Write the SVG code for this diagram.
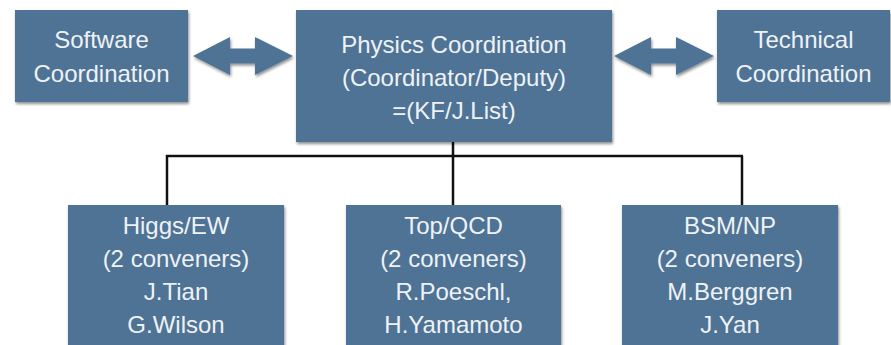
<svg xmlns="http://www.w3.org/2000/svg" width="891" height="345" viewBox="0 0 891 345">
  <defs>
    <filter id="shadow" x="-10%" y="-10%" width="125%" height="130%">
      <feGaussianBlur in="SourceAlpha" stdDeviation="1.5"/>
      <feOffset dx="1" dy="2" result="b"/>
      <feComponentTransfer><feFuncA type="linear" slope="0.45"/></feComponentTransfer>
      <feMerge><feMergeNode/><feMergeNode in="SourceGraphic"/></feMerge>
    </filter>
    <path id="dblArrow" d="M0,0 L37,-19 L37,-7.5 L62,-7.5 L62,-19 L100,0 L62,19 L62,7.5 L37,7.5 L37,19 Z"/>
  </defs>
  <style>
    .box { fill: #4f7395; filter: url(#shadow); }
    .arrow { fill: #4f7395; filter: url(#shadow); }
    .lbl { font-family: "Liberation Sans", Arial, sans-serif; font-size: 24px; fill: #eef2f5; text-anchor: middle; }
    .wire { stroke: #111; stroke-width: 2.5; fill: none; }
  </style>
  <rect width="891" height="345" fill="#ffffff"/>

  <!-- tree connectors -->
  <g id="connectors">
    <path class="wire" d="M453,142 V205"/>
    <path class="wire" d="M166,156 H743"/>
    <path class="wire" d="M167,155 V205"/>
    <path class="wire" d="M742,156 V205"/>
    <use href="#dblArrow" class="arrow" transform="translate(193,56)"/>
    <use href="#dblArrow" class="arrow" transform="translate(614,56)"/>
  </g>

  <g id="software">
    <rect class="box" x="15" y="10" width="173" height="92"/>
    <text class="lbl" x="101.5" y="48">Software</text>
    <text class="lbl" x="101.5" y="82">Coordination</text>
  </g>

  <g id="physics">
    <rect class="box" x="296" y="10" width="316" height="132"/>
    <text class="lbl" x="454" y="53">Physics Coordination</text>
    <text class="lbl" x="454" y="86">(Coordinator/Deputy)</text>
    <text class="lbl" x="454" y="119">=(KF/J.List)</text>
  </g>

  <g id="technical">
    <rect class="box" x="717" y="10" width="173" height="92"/>
    <text class="lbl" x="803.5" y="48">Technical</text>
    <text class="lbl" x="803.5" y="82">Coordination</text>
  </g>

  <g id="higgs">
    <rect class="box" x="68" y="205" width="216" height="150"/>
    <text class="lbl" x="176" y="234">Higgs/EW</text>
    <text class="lbl" x="176" y="267">(2 conveners)</text>
    <text class="lbl" x="176" y="300">J.Tian</text>
    <text class="lbl" x="176" y="333">G.Wilson</text>
  </g>

  <g id="topqcd">
    <rect class="box" x="346" y="205" width="215" height="150"/>
    <text class="lbl" x="453.5" y="234">Top/QCD</text>
    <text class="lbl" x="453.5" y="267">(2 conveners)</text>
    <text class="lbl" x="453.5" y="300">R.Poeschl,</text>
    <text class="lbl" x="453.5" y="333">H.Yamamoto</text>
  </g>

  <g id="bsm">
    <rect class="box" x="622" y="205" width="216" height="150"/>
    <text class="lbl" x="730" y="234">BSM/NP</text>
    <text class="lbl" x="730" y="267">(2 conveners)</text>
    <text class="lbl" x="730" y="300">M.Berggren</text>
    <text class="lbl" x="730" y="333">J.Yan</text>
  </g>
</svg>
